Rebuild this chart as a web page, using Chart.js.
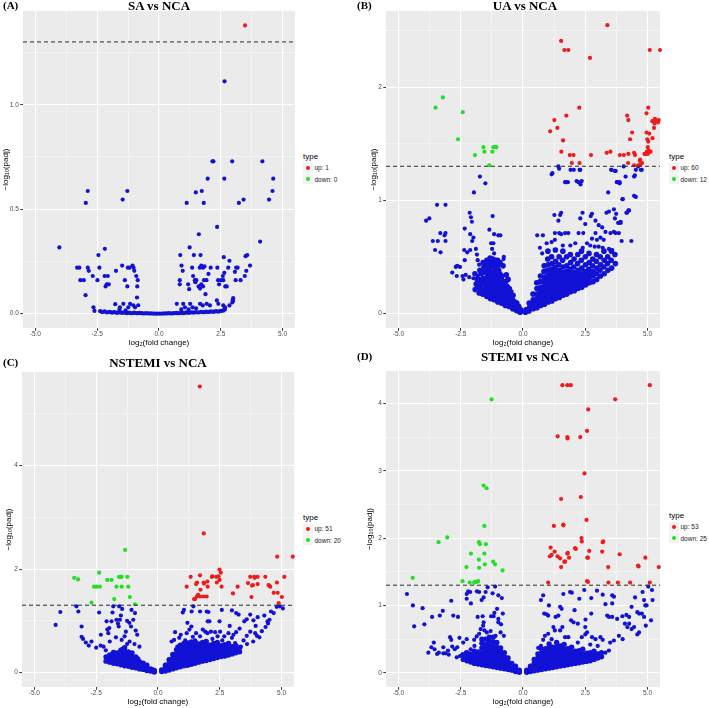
<!DOCTYPE html>
<html>
<head>
<meta charset="utf-8">
<script src="https://cdn.jsdelivr.net/npm/chart.js@4.4.1/dist/chart.umd.min.js"></script>
<style>
  html, body { margin: 0; padding: 0; background: #fff; }
  #fig { position: relative; width: 709px; height: 708px; overflow: hidden; }
  canvas { position: absolute; }
  .tag, .ttl { position: absolute; font-family: "Liberation Serif", "Times New Roman", serif; font-weight: bold; color: #000; white-space: nowrap; }
  .tag { font-size: 11px; line-height: 11px; }
  .ttl { font-size: 13px; line-height: 13px; width: 200px; text-align: center; }
  .leg { position: absolute; font-family: "Liberation Sans", Arial, sans-serif; color: #000; white-space: nowrap; }
  .leg .lt { font-size: 8px; line-height: 9px; }
  .leg .row { display: flex; align-items: center; height: 11.5px; font-size: 6.5px; color: #1a1a1a; }
  .leg .row.first { margin-top: 1.5px; }
  .leg .key { width: 9.5px; height: 10px; background: #f2f2f2; display: flex; align-items: center; justify-content: center; margin-right: 2px; flex: none; }
  .leg .dot { width: 4px; height: 4px; border-radius: 50%; }
</style>
</head>
<body>
<div id="fig">
  <canvas id="cA" width="300" height="354" style="left:0;top:0"></canvas>
  <canvas id="cB" width="310" height="354" style="left:354px;top:0"></canvas>
  <canvas id="cC" width="300" height="368" style="left:0;top:340px"></canvas>
  <canvas id="cD" width="310" height="368" style="left:354px;top:340px"></canvas>

  <div class="tag" style="left:3px;top:0px">(A)</div>
  <div class="ttl" style="left:59px;top:-1px">SA vs NCA</div>
  <div class="tag" style="left:357px;top:0px">(B)</div>
  <div class="ttl" style="left:425px;top:-1px">UA vs NCA</div>
  <div class="tag" style="left:3px;top:357px">(C)</div>
  <div class="ttl" style="left:58px;top:356px">NSTEMI vs NCA</div>
  <div class="tag" style="left:357px;top:351px">(D)</div>
  <div class="ttl" style="left:425px;top:350px">STEMI vs NCA</div>

  <div class="leg" id="lA" style="left:303px;top:151.5px"></div>
  <div class="leg" id="lB" style="left:669px;top:151.5px"></div>
  <div class="leg" id="lC" style="left:303px;top:512.5px"></div>
  <div class="leg" id="lD" style="left:669px;top:510.5px"></div>
</div>
<script>
// axis values shared by all four panels
const xMin = -5.5, xMax = 5.5;
const padjCut = 1.301;
const xMajor = [-5, -2.5, 0, 2.5, 5];
const xMinor = [-3.75, -1.25, 1.25, 3.75];

const upColor = '#ee1c1c', downColor = '#22e022', normColor = '#1212d6';

// ---- (A) SA vs NCA ----
const saUp = [[3.48, 1.38]];
const saDown = [];
const saNormal = [
  [-4.03,0.317],[-3.31,0.22],[-3.22,0.22],[-3.18,0.16],[-3.04,0.16],[-2.97,0.088],[-2.96,0.53],[-2.88,0.587],[-2.88,0.22],[-2.84,0.205],
  [-2.68,0.18],[-2.65,0.03],[-2.61,0.013],[-2.49,0.16],[-2.45,0.28],[-2.41,0.22],[-2.19,0.31],[-2.2,0.18],[-2.07,0.18],[-2.16,0.13],
  [-2.11,0.14],[-2.03,0.14],[-1.74,0.205],[-1.77,0.045],[-1.47,0.546],[-1.28,0.587],[-1.49,0.23],[-1.38,0.16],[-1.28,0.13],[-1.26,0.22],
  [-1.19,0.22],[-1.07,0.23],[-1.03,0.22],[-1.0,0.205],[-0.92,0.18],[-0.86,0.16],[-0.88,0.13],[-0.89,0.077],
  [-1.58,0.03],[-1.44,0.047],[-1.24,0.03],[-1.17,0.047],[-1.04,0.04],[-0.97,0.03],[-0.84,0.04],[-1.6,0.02],[-1.35,0.015],
  [0.84,0.16],[0.84,0.14],[0.86,0.28],[0.91,0.23],[0.96,0.205],[1.12,0.53],[1.18,0.14],[1.22,0.117],[1.24,0.317],[1.34,0.22],
  [1.38,0.18],[1.41,0.28],[1.45,0.16],[1.51,0.16],[1.47,0.15],[1.49,0.58],[1.61,0.38],[1.65,0.22],[1.71,0.23],[1.78,0.22],
  [1.68,0.28],[1.6,0.13],[1.66,0.12],[1.71,0.14],[1.78,0.13],[1.73,0.587],[1.81,0.53],[1.84,0.226],[1.88,0.093],[1.92,0.16],
  [1.82,0.16],[1.97,0.646],[2.0,0.19],[2.09,0.22],[2.16,0.729],[2.2,0.729],[2.35,0.415],[2.36,0.22],[2.39,0.16],[2.43,0.14],
  [2.52,0.16],[2.58,0.18],[2.6,0.16],[2.64,0.195],[2.68,0.13],[2.74,0.13],[2.62,0.27],[2.64,0.646],[2.65,1.112],[2.8,0.22],
  [2.85,0.253],[2.96,0.729],[2.96,0.053],[3.0,0.06],[3.07,0.2],[3.12,0.22],[3.18,0.22],[3.1,0.16],[3.3,0.16],[3.23,0.53],
  [3.42,0.546],[3.47,0.18],[3.5,0.275],[3.57,0.28],[3.53,0.205],[3.68,0.23],[4.09,0.345],[4.18,0.729],[4.45,0.546],[4.59,0.587],[4.62,0.646],
  [0.72,0.047],[0.98,0.047],[1.05,0.03],[1.26,0.047],[1.36,0.03],[1.66,0.047],[1.77,0.039],[1.93,0.047],[2.06,0.039],[2.34,0.063],
  [2.4,0.047],[2.6,0.039],[2.67,0.03],[2.85,0.039],[2.98,0.066],[3.0,0.074],[1.2,0.02],[1.5,0.025],[0.9,0.02]
];
const saZeroRow = [
  [-2.38,0.012],[-2.3,0.008],[-2.2,0.01],[-2.1,0.006],[-2.0,0.008],[-1.9,0.005],[-1.8,0.007],[-1.7,0.004],[-1.6,0.006],[-1.5,0.004],
  [-1.4,0.005],[-1.3,0.003],[-1.2,0.004],[-1.1,0.002],[-1.0,0.004],[-0.9,0.002],[-0.8,0.003],[-0.7,0.002],[-0.6,0.001],[-0.5,0.002],
  [-0.4,0.001],[-0.3,0.001],[-0.2,0],[-0.1,0],[0,0],[0.1,0],[0.2,0.001],[0.3,0.001],[0.4,0.002],[0.5,0.001],
  [0.6,0.002],[0.7,0.003],[0.8,0.002],[0.9,0.004],[1.0,0.003],[1.1,0.005],[1.2,0.004],[1.3,0.006],[1.4,0.005],[1.5,0.007],
  [1.6,0.006],[1.7,0.008],[1.8,0.007],[1.9,0.009],[2.0,0.008],[2.1,0.01],[2.2,0.009],[2.3,0.011],[2.4,0.01],[2.5,0.013],[2.6,0.015],[2.66,0.02]
];
const saYMajor = [0, 0.5, 1];
const saYMinor = [0.25, 0.75, 1.25];

// ---- (B) UA vs NCA ----
const uaUp = [
  [1.53,2.41],[1.66,2.33],[1.82,2.33],[2.69,2.26],[3.39,2.55],[5.09,2.33],[5.5,2.33],
  [2.26,1.82],[1.74,1.75],[1.26,1.71],[1.38,1.64],[1.09,1.61],[1.61,1.53],[1.54,1.43],[1.88,1.40],[2.03,1.40],[1.96,1.33],[2.27,1.33],[2.73,1.40],[3.36,1.42],[3.51,1.43],
  [3.89,1.40],[4.05,1.40],[4.23,1.41],[4.18,1.75],[4.23,1.71],[4.38,1.60],[4.30,1.54],[4.22,1.33],[4.46,1.42],[4.50,1.40],[4.46,1.31],[4.69,1.35],[4.72,1.32],[4.70,1.36],
  [4.92,1.41],[4.97,1.43],[5.01,1.41],[5.05,1.44],[4.96,1.77],[5.03,1.82],[4.96,1.60],[5.07,1.59],[5.01,1.47],[5.03,1.52],
  [5.12,1.43],[5.20,1.55],[5.26,1.64],[5.19,1.70],[5.28,1.68],[5.33,1.70],[5.38,1.70],[5.45,1.71],[5.30,1.72],[5.09,1.43],
  [4.88,1.41],[4.99,1.54],[5.42,1.69],[4.78,1.33],[4.62,1.31]
];
const uaDown = [
  [-3.51,1.82],[-3.22,1.91],[-2.42,1.78],[-2.61,1.54],[-1.93,1.40],[-1.59,1.47],[-1.55,1.43],[-1.23,1.43],[-1.19,1.47],[-1.07,1.47],[-1.13,1.47],[-1.35,1.31]
];
const uaNormal = [
  [-3.89,0.82],[-3.76,0.84],[-3.62,0.64],[-3.42,0.64],[-3.53,0.56],[-3.31,0.54],[-3.45,0.96],[-3.11,0.96],[-3.32,0.71],[-3.15,0.69],
  [-3.11,0.71],[-3.11,0.64],[-2.84,0.36],[-2.70,0.41],[-2.64,0.42],[-2.66,0.33],[-2.53,0.41],[-2.43,0.33],[-2.39,0.30],[-2.34,0.47],
  [-2.30,0.34],[-2.16,0.32],[-1.99,0.31],[-1.82,0.33],[-1.80,0.28],[-1.62,0.29],[-1.55,0.21],[-2.34,0.75],[-2.24,0.54],[-2.14,0.89],
  [-2.09,0.85],[-2.05,0.81],[-2.12,0.70],[-2.36,0.56],[-2.12,0.56],[-2.04,0.64],[-1.99,0.67],[-1.97,1.07],[-1.89,0.57],[-1.85,0.52],
  [-1.82,0.47],[-1.76,0.43],[-1.73,1.21],[-1.51,1.15],[-1.35,0.74],[-1.22,0.86],[-1.16,0.70],[-0.99,0.69],[-0.91,0.69],[-1.24,0.57],
  [-1.28,0.62],[-1.19,0.62],[-1.16,0.53],[-0.78,0.48],[-0.77,0.50],
  [1.15,1.23],[1.42,1.30],[1.49,0.87],[1.53,0.89],[1.26,0.87],[1.42,0.82],[1.28,0.71],[1.45,0.71],[1.53,0.70],[1.82,0.71],
  [1.72,1.16],[1.80,1.16],[2.04,1.27],[2.31,1.14],[2.30,1.27],[2.23,1.16],[2.36,1.17],[2.39,0.89],[2.30,0.84],[2.50,0.79],
  [2.42,0.71],[2.23,0.71],[2.72,0.86],[2.77,0.88],[2.91,0.82],[3.04,0.78],[3.18,0.76],[3.31,0.72],[3.42,1.07],[3.55,1.27],
  [3.72,1.26],[3.78,1.16],[3.88,1.16],[3.35,0.89],[3.45,0.90],[3.65,0.92],[3.74,0.88],[3.82,0.80],[3.92,0.80],[3.69,0.84],
  [3.85,0.71],[4.01,1.01],[4.12,1.21],[4.15,0.89],[4.26,0.91],[3.96,0.64],[4.46,1.04],[4.49,1.22],[4.73,1.27],[4.53,1.27],
  [3.51,0.71],[3.65,0.72],[3.72,0.71],[2.77,0.66],[2.97,0.65],[3.11,0.67],[3.24,0.65],[2.91,0.71],[2.57,0.62],[2.70,0.60],
  [2.88,0.59],[3.04,0.59],[3.20,0.58],[3.45,0.57],[3.58,0.56],[1.69,0.71],[1.15,0.63],[1.28,0.65],[0.57,0.69],[0.80,0.69],
  [0.77,0.53],[1.18,1.24],[1.45,1.28],[1.91,1.27],[2.27,1.27],[1.69,1.16],[2.15,1.17],[3.54,1.27],[3.69,1.26],[4.04,1.30],
  [4.46,1.21],[4.62,1.30],[4.77,1.27],[3.77,1.16],[3.88,1.15],[4.53,1.03],[3.99,1.01],[4.35,0.64],[4.18,0.89],[4.23,0.91],
  [3.92,0.81],[0.95,0.62],[0.68,0.58],[2.1,0.62],[1.9,0.6],[1.6,0.6],[2.4,0.58]
];
const uaCore = [
  [-1.92,0.21],[-1.88,0.26],[-1.93,0.35],[-1.76,0.18],[-1.74,0.24],[-1.77,0.30],[-1.73,0.38],
  [-1.62,0.17],[-1.58,0.21],[-1.61,0.26],[-1.59,0.31],[-1.62,0.36],[-1.57,0.41],[-1.6,0.45],
  [-1.46,0.15],[-1.44,0.19],[-1.47,0.23],[-1.43,0.27],[-1.46,0.31],[-1.44,0.35],[-1.47,0.39],[-1.43,0.43],[-1.45,0.47],
  [-1.31,0.13],[-1.29,0.17],[-1.32,0.21],[-1.28,0.25],[-1.31,0.29],[-1.29,0.33],[-1.32,0.37],[-1.28,0.41],[-1.3,0.46],
  [-1.16,0.12],[-1.14,0.16],[-1.17,0.20],[-1.13,0.24],[-1.16,0.28],[-1.14,0.32],[-1.17,0.36],[-1.13,0.40],[-1.15,0.44],
  [-1.01,0.10],[-0.99,0.14],[-1.02,0.18],[-0.98,0.22],[-1.01,0.26],[-0.99,0.30],[-1.02,0.34],[-0.98,0.38],[-1.0,0.42],
  [-0.86,0.09],[-0.84,0.13],[-0.87,0.17],[-0.83,0.21],[-0.86,0.25],[-0.84,0.29],[-0.85,0.33],
  [-0.71,0.07],[-0.69,0.11],[-0.72,0.15],[-0.68,0.19],[-0.71,0.23],[-0.7,0.28],
  [-0.56,0.06],[-0.54,0.10],[-0.57,0.14],[-0.53,0.18],[-0.55,0.22],
  [-0.41,0.04],[-0.39,0.08],[-0.42,0.12],[-0.4,0.16],[-0.26,0.025],[-0.24,0.05],[-0.25,0.09],[-0.11,0.01],[-0.09,0.03],
  [-1.52,0.19],[-1.53,0.29],[-1.52,0.39],[-1.37,0.15],[-1.38,0.25],[-1.36,0.35],[-1.37,0.44],[-1.22,0.14],[-1.23,0.24],[-1.21,0.34],
  [-1.22,0.42],[-1.07,0.12],[-1.08,0.2],[-1.06,0.3],[-1.07,0.4],[-0.93,0.11],[-0.92,0.19],[-0.94,0.27],[-0.93,0.35],[-0.78,0.09],
  [-0.77,0.17],[-0.79,0.25],[-0.63,0.08],[-0.62,0.16],[-0.64,0.24],[-0.48,0.06],[-0.47,0.13],[-0.49,0.19],[-0.33,0.04],[-0.32,0.1],
  [-0.18,0.02],[-0.17,0.06],[-1.68,0.2],[-1.67,0.28],[-1.69,0.35],[-1.83,0.23],[-1.84,0.3],
  [-1.32,0.49],[-1.21,0.48],[-1.1,0.47],[-1.02,0.47],[-0.92,0.45],[-0.8,0.42],[-0.67,0.34],[-0.6,0.3],
  [0.1,0.01],[0.12,0.03],[0.24,0.02],[0.26,0.05],[0.25,0.09],[0.41,0.04],[0.39,0.08],[0.41,0.12],[0.4,0.17],
  [0.56,0.05],[0.54,0.09],[0.56,0.13],[0.54,0.17],[0.56,0.22],[0.55,0.27],
  [0.71,0.07],[0.69,0.11],[0.71,0.15],[0.69,0.19],[0.71,0.23],[0.69,0.28],[0.7,0.33],
  [0.86,0.08],[0.84,0.12],[0.86,0.16],[0.84,0.2],[0.86,0.24],[0.84,0.28],[0.86,0.32],[0.84,0.37],[0.85,0.42],
  [1.01,0.1],[0.99,0.14],[1.01,0.18],[0.99,0.22],[1.01,0.26],[0.99,0.3],[1.01,0.34],[0.99,0.38],[1.01,0.43],[0.99,0.48],[1.0,0.55],
  [1.16,0.11],[1.14,0.15],[1.16,0.19],[1.14,0.23],[1.16,0.27],[1.14,0.31],[1.16,0.35],[1.14,0.39],[1.16,0.44],[1.15,0.5],
  [1.31,0.13],[1.29,0.17],[1.31,0.21],[1.29,0.25],[1.31,0.29],[1.29,0.33],[1.31,0.37],[1.29,0.41],[1.31,0.46],[1.3,0.56],
  [1.46,0.14],[1.44,0.18],[1.46,0.22],[1.44,0.26],[1.46,0.3],[1.44,0.34],[1.46,0.38],[1.44,0.43],[1.45,0.5],
  [1.61,0.16],[1.59,0.2],[1.61,0.24],[1.59,0.28],[1.61,0.32],[1.59,0.36],[1.61,0.41],[1.59,0.47],[1.6,0.55],
  [1.76,0.17],[1.74,0.21],[1.76,0.25],[1.74,0.29],[1.76,0.33],[1.74,0.37],[1.76,0.42],[1.75,0.5],
  [1.91,0.19],[1.89,0.23],[1.91,0.27],[1.89,0.31],[1.91,0.35],[1.89,0.39],[1.91,0.45],[1.9,0.52],
  [2.06,0.2],[2.04,0.24],[2.06,0.28],[2.04,0.32],[2.06,0.36],[2.04,0.41],[2.05,0.48],
  [2.21,0.22],[2.19,0.26],[2.21,0.3],[2.19,0.34],[2.21,0.38],[2.19,0.44],[2.2,0.52],
  [2.36,0.23],[2.34,0.27],[2.36,0.31],[2.34,0.35],[2.36,0.4],[2.34,0.47],[2.35,0.55],
  [2.51,0.25],[2.49,0.29],[2.51,0.33],[2.49,0.37],[2.51,0.43],[2.5,0.5],
  [2.66,0.27],[2.64,0.31],[2.66,0.35],[2.64,0.39],[2.66,0.45],[2.65,0.53],
  [2.81,0.28],[2.79,0.33],[2.81,0.37],[2.79,0.42],[2.8,0.48],[2.96,0.3],[2.94,0.35],[2.96,0.4],[2.94,0.46],[2.95,0.52],
  [3.11,0.33],[3.09,0.38],[3.11,0.43],[3.1,0.5],[3.26,0.35],[3.24,0.41],[3.26,0.47],[3.25,0.55],
  [3.41,0.38],[3.39,0.44],[3.4,0.5],[3.56,0.4],[3.54,0.47],[3.55,0.55],[3.71,0.44],[3.69,0.52]
];
const uaYMajor = [0, 1, 2];
const uaYMinor = [0.5, 1.5, 2.5];

// ---- (C) NSTEMI vs NCA ----
const nsUp = [
  [1.69,5.53],[1.85,2.69],[4.82,2.24],[5.45,2.24],
  [1.32,1.85],[1.70,1.88],[1.16,1.66],[1.54,1.71],[1.86,1.72],[2.00,1.76],[2.18,1.85],[2.35,1.85],[2.49,1.99],[2.54,1.93],[2.38,1.74],[2.57,1.66],[2.01,1.66],
  [1.57,1.47],[1.70,1.47],[1.84,1.47],[1.97,1.47],[1.46,1.42],[1.50,1.42],[1.62,1.50],
  [3.03,1.53],[3.22,1.66],[3.73,1.85],[3.84,1.69],[3.89,1.85],[4.03,1.85],[4.03,1.71],[3.64,1.73],[3.78,1.46],[3.91,1.83],
  [4.34,1.85],[4.47,1.69],[4.54,1.66],[4.68,1.54],[4.81,1.74],[4.84,1.54],[5.01,1.46],[5.11,1.85],[4.88,1.34],
  [1.85,1.74],[2.20,1.86],[2.49,1.79],[1.58,1.74],[1.72,1.60],[3.80,1.68],[4.50,1.68],[2.45,1.86]
];
const nsDown = [
  [-3.39,1.83],[-3.23,1.80],[-2.38,1.93],[-2.59,1.66],[-2.49,1.66],[-2.35,1.66],[-2.05,1.79],[-1.88,1.79],[-1.58,1.85],[-1.47,1.85],
  [-1.24,1.85],[-1.68,1.66],[-1.47,1.66],[-1.20,1.66],[-2.69,1.35],[-1.77,1.42],[-1.14,1.46],[-0.93,1.32],[-1.33,2.37],[-1.52,1.85]
];
const nsNormal = [
  [-4.14,0.92],[-3.95,1.17],[-3.30,1.28],[-3.22,1.18],[-3.09,0.89],[-3.09,0.69],[-3.03,0.65],[-2.92,0.58],[-2.69,0.60],[-2.38,1.16],
  [-2.32,0.52],[-2.11,0.43],[-2.08,0.99],[-1.97,0.86],[-1.88,0.99],[-1.68,1.02],[-1.54,1.02],[-1.84,1.16],[-1.81,1.28],[-1.57,1.28],
  [-2.05,0.83],[-2.01,0.76],[-1.59,0.89],[-1.30,0.79],[-1.16,0.96],[-1.09,0.89],[-1.07,1.21],[-0.93,1.15],[-0.90,0.81],[-0.84,0.73],
  [-1.47,0.63],[-2.31,0.73],[-1.45,1.23],[-1.50,1.10],[-1.62,0.95],[-1.25,1.0],[-1.0,1.02],[-1.35,0.7],[-1.7,0.68],[-1.95,0.6],
  [-2.2,0.5],[-2.5,0.48],[-2.8,0.52],[-1.15,0.6],[-0.95,0.55],[-0.75,0.5],[-1.25,0.55],
  [0.69,0.78],[1.00,1.16],[1.05,1.21],[1.36,1.18],[1.70,1.18],[1.97,1.18],[2.04,1.17],[1.43,1.28],[2.01,0.99],[2.08,0.99],
  [2.49,0.99],[2.58,1.21],[2.99,1.20],[3.16,1.15],[3.26,1.12],[3.49,0.99],[3.59,1.03],[3.73,1.12],[3.86,1.01],[4.03,1.07],
  [3.93,0.76],[4.00,0.71],[4.43,0.99],[4.51,1.02],[4.57,1.18],[4.68,1.15],[4.92,1.28],[5.05,1.24],[3.46,0.62],[3.59,0.71],
  [3.73,0.79],[2.73,0.41],[3.12,0.57],[3.05,0.73],[3.16,0.78],[2.68,0.70],[2.85,0.76],[2.99,0.67],[2.31,0.78],[2.41,0.70],
  [2.51,0.79],[1.91,0.79],[2.00,0.76],[2.14,0.79],[1.54,0.76],[1.70,0.70],[1.81,0.83],[1.16,0.76],[1.27,0.83],[1.41,0.69],
  [0.86,0.67],[0.92,0.73],[0.55,0.60],[0.65,0.63],[1.19,0.96],[1.35,0.89],[4.8,1.27],[4.35,0.88],[4.2,0.8],[4.1,0.68],
  [3.85,0.6],[3.6,0.55],[3.35,0.5],[4.45,0.95],[3.3,0.85],[2.9,0.9],[2.2,0.65],[1.5,0.62],[1.1,0.62],[2.6,0.62],
  [3.95,0.9],[4.3,1.1],[0.78,0.5]
];
const nsCore = [
  [-2.1,0.22],[-2.1,0.3],[-1.95,0.2],[-1.95,0.27],[-1.95,0.34],[-1.8,0.18],[-1.8,0.25],[-1.8,0.32],[-1.8,0.39],
  [-1.65,0.17],[-1.65,0.24],[-1.65,0.31],[-1.65,0.38],[-1.5,0.15],[-1.5,0.22],[-1.5,0.29],[-1.5,0.36],[-1.5,0.43],
  [-1.35,0.13],[-1.35,0.2],[-1.35,0.27],[-1.35,0.34],[-1.35,0.41],[-1.35,0.48],[-1.2,0.12],[-1.2,0.19],[-1.2,0.26],[-1.2,0.33],[-1.2,0.4],
  [-1.05,0.1],[-1.05,0.17],[-1.05,0.24],[-1.05,0.31],[-1.05,0.38],[-0.9,0.09],[-0.9,0.16],[-0.9,0.23],[-0.9,0.3],
  [-0.75,0.07],[-0.75,0.14],[-0.75,0.21],[-0.6,0.06],[-0.6,0.12],[-0.6,0.18],[-0.45,0.04],[-0.45,0.09],[-0.45,0.14],
  [-0.3,0.03],[-0.3,0.07],[-0.15,0.01],[-0.15,0.04],
  [-2.02,0.25],[-1.72,0.21],[-1.72,0.35],[-1.42,0.18],[-1.42,0.32],[-1.42,0.45],[-1.12,0.15],[-1.12,0.29],[-0.82,0.12],[-0.82,0.26],[-0.52,0.09],[-0.22,0.05],
  [0.15,0.02],[0.15,0.05],[0.3,0.03],[0.3,0.08],[0.3,0.14],[0.45,0.05],[0.45,0.11],[0.45,0.18],[0.45,0.25],
  [0.6,0.07],[0.6,0.14],[0.6,0.21],[0.6,0.28],[0.6,0.35],[0.75,0.09],[0.75,0.16],[0.75,0.23],[0.75,0.3],[0.75,0.37],[0.75,0.44],
  [0.9,0.11],[0.9,0.18],[0.9,0.25],[0.9,0.32],[0.9,0.39],[0.9,0.46],[0.9,0.53],
  [1.05,0.13],[1.05,0.2],[1.05,0.27],[1.05,0.34],[1.05,0.41],[1.05,0.48],[1.05,0.56],
  [1.2,0.14],[1.2,0.21],[1.2,0.28],[1.2,0.35],[1.2,0.42],[1.2,0.49],[1.2,0.57],
  [1.35,0.16],[1.35,0.23],[1.35,0.3],[1.35,0.37],[1.35,0.44],[1.35,0.51],[1.35,0.59],
  [1.5,0.18],[1.5,0.25],[1.5,0.32],[1.5,0.39],[1.5,0.46],[1.5,0.53],[1.5,0.6],
  [1.65,0.2],[1.65,0.27],[1.65,0.34],[1.65,0.41],[1.65,0.48],[1.65,0.55],
  [1.8,0.22],[1.8,0.29],[1.8,0.36],[1.8,0.43],[1.8,0.5],[1.8,0.58],
  [1.95,0.23],[1.95,0.3],[1.95,0.37],[1.95,0.44],[1.95,0.51],[1.95,0.6],
  [2.1,0.25],[2.1,0.32],[2.1,0.39],[2.1,0.46],[2.1,0.53],[2.25,0.27],[2.25,0.34],[2.25,0.41],[2.25,0.48],[2.25,0.56],
  [2.4,0.29],[2.4,0.36],[2.4,0.43],[2.4,0.5],[2.4,0.58],[2.55,0.31],[2.55,0.38],[2.55,0.45],[2.55,0.52],
  [2.7,0.32],[2.7,0.39],[2.7,0.46],[2.7,0.54],[2.85,0.34],[2.85,0.41],[2.85,0.48],[2.85,0.56],
  [3.0,0.36],[3.0,0.43],[3.0,0.5],[3.15,0.38],[3.15,0.45],[3.15,0.52],[3.3,0.4],[3.3,0.48]
];
const nsYMajor = [0, 2, 4];
const nsYMinor = [1, 3, 5];

// ---- (D) STEMI vs NCA ----
const stUp = [
  [1.58,4.27],[1.78,4.27],[1.92,4.27],[5.09,4.27],[3.70,4.06],[2.62,3.91],[1.39,3.51],[1.78,3.50],[1.79,3.48],[2.30,3.50],[2.57,3.59],[2.47,2.96],
  [2.32,2.61],[1.53,2.58],[2.55,2.27],[1.24,2.18],[1.62,2.20],[2.35,2.00],[2.36,1.95],[3.20,1.94],[2.09,1.85],[1.11,1.86],[1.27,1.80],[1.08,1.73],[1.39,1.73],
  [1.78,1.77],[1.85,1.71],[1.66,1.65],[1.53,1.57],[2.66,1.81],[2.61,1.71],[3.18,1.80],[3.88,1.76],[3.42,1.57],[4.64,1.58],[4.91,1.71],[5.45,1.57],[1.49,1.70],
  [1.01,1.34],[2.57,1.36],[2.61,1.35],[3.43,1.34],[3.81,1.34],[4.30,1.34],[5.09,1.34],[1.69,1.65],[2.58,1.71],[1.62,2.19],[3.22,1.95],[1.15,1.75],[2.12,1.84],[4.62,1.59],[1.80,1.78]
];
const stDown = [
  [-4.43,1.41],[-3.04,2.01],[-3.39,1.94],[-1.26,4.06],[-1.58,2.78],[-1.46,2.74],[-1.55,2.18],[-1.77,1.94],[-1.73,1.91],[-1.49,1.91],
  [-2.09,1.77],[-1.55,1.77],[-2.27,1.57],[-1.77,1.68],[-1.76,1.56],[-1.53,1.61],[-1.20,1.65],[-1.12,1.61],[-0.82,1.52],[-2.43,1.36],
  [-2.14,1.34],[-1.93,1.35],[-1.86,1.35],[-1.80,1.36],[-1.96,1.34]
];
const stNormal = [
  [-4.66,1.17],[-4.42,1.00],[-4.37,0.69],[-4.03,0.96],[-3.96,0.72],[-3.65,0.83],[-3.68,0.38],[-3.55,0.35],[-3.58,0.45],[-3.38,0.30],
  [-3.20,0.29],[-3.11,0.29],[-3.01,0.33],[-3.34,0.85],[-3.22,0.92],[-3.20,0.38],[-2.93,0.53],[-2.88,0.49],[-2.88,1.07],[-2.80,0.85],
  [-2.61,0.83],[-2.84,0.39],[-2.74,0.35],[-2.64,0.38],[-2.66,0.23],[-2.53,0.25],[-2.43,0.28],[-2.26,1.17],[-2.20,1.21],[-2.12,1.20],
  [-2.26,1.10],[-2.09,1.03],[-2.26,0.50],[-1.85,1.21],[-1.76,1.20],[-1.82,0.83],[-1.62,0.84],[-1.58,0.75],[-1.76,0.58],[-1.55,0.63],
  [-1.96,0.49],[-1.86,0.54],[-1.66,1.08],[-1.58,1.12],[-1.42,1.27],[-1.12,1.28],[-1.22,1.18],[-0.99,1.15],[-0.85,1.11],[-1.28,0.84],
  [-1.18,0.84],[-1.15,0.89],[-1.04,0.95],[-0.99,0.80],[-0.81,0.88],[-0.99,0.75],[-0.88,0.72],[-0.77,0.55],[-3.8,0.3],[-3.45,0.28],
  [-2.98,0.27],[-2.3,0.3],[-2.1,0.35],[-2.4,0.45],[-1.6,0.7],[-1.45,0.6],[-1.7,0.65],[-1.3,0.62],[-1.1,0.55],[-0.9,0.6],
  [-1.95,0.4],[-2.55,0.52],[-1.5,1.2],
  [0.72,1.08],[0.81,1.15],[1.04,1.0],[0.85,0.88],[0.95,0.87],[1.01,0.85],[1.31,0.83],[1.42,0.85],[1.49,0.98],[1.55,0.95],
  [1.62,1.17],[1.89,1.2],[1.96,1.19],[2.07,0.93],[2.26,1.1],[2.46,1.23],[2.51,0.79],[2.5,0.68],[2.57,0.6],[2.74,1.11],
  [2.74,0.88],[2.97,1.22],[3.2,1.16],[3.31,1.02],[3.38,0.85],[3.45,0.83],[3.58,1.15],[3.65,1.13],[3.58,1.03],[3.58,0.83],
  [3.78,0.8],[3.99,0.84],[4.15,0.86],[4.26,0.83],[4.09,0.73],[4.19,0.68],[4.36,0.98],[4.5,1.12],[4.59,0.9],[4.66,0.88],
  [4.77,0.88],[4.8,1.2],[4.86,1.08],[4.91,1.0],[4.96,1.0],[4.86,0.83],[4.93,0.7],[5.03,1.28],[5.18,1.23],[5.2,1.08],
  [5.14,0.78],[4.66,0.6],[4.59,0.57],[4.46,0.68],[4.26,0.73],[4.36,0.65],[3.85,0.55],[3.65,0.48],[3.45,0.33],[3.31,0.3],
  [3.11,0.53],[3.2,0.49],[2.77,0.53],[2.91,0.5],[2.36,0.53],[2.5,0.57],[2.2,0.73],[1.93,0.78],[2.03,0.75],[1.69,0.53],
  [1.82,0.53],[1.58,0.68],[1.49,0.63],[1.22,0.68],[1.28,0.63],[1.01,0.58],[1.15,0.5],[0.81,0.49],[0.88,0.55],[0.61,0.37],
  [0.72,0.4],[2.2,0.45],[2.7,0.42],[3.0,0.4],[3.5,0.45],[4.0,0.5]
];
const stCore = [
  [-2.4,0.2],[-2.4,0.26],[-2.25,0.18],[-2.25,0.24],[-2.25,0.3],[-2.1,0.16],[-2.1,0.22],[-2.1,0.28],
  [-1.95,0.14],[-1.95,0.2],[-1.95,0.26],[-1.95,0.32],[-1.8,0.13],[-1.8,0.19],[-1.8,0.25],[-1.8,0.31],
  [-1.65,0.12],[-1.65,0.18],[-1.65,0.24],[-1.65,0.3],[-1.65,0.37],[-1.65,0.44],[-1.65,0.5],
  [-1.5,0.11],[-1.5,0.17],[-1.5,0.23],[-1.5,0.29],[-1.5,0.35],[-1.5,0.42],[-1.5,0.5],
  [-1.35,0.1],[-1.35,0.16],[-1.35,0.22],[-1.35,0.28],[-1.35,0.34],[-1.35,0.4],[-1.35,0.47],[-1.35,0.53],
  [-1.2,0.09],[-1.2,0.15],[-1.2,0.21],[-1.2,0.27],[-1.2,0.33],[-1.2,0.39],[-1.2,0.46],[-1.2,0.53],
  [-1.05,0.08],[-1.05,0.14],[-1.05,0.2],[-1.05,0.26],[-1.05,0.32],[-1.05,0.38],[-1.05,0.45],
  [-0.9,0.07],[-0.9,0.13],[-0.9,0.19],[-0.9,0.25],[-0.9,0.31],[-0.9,0.37],[-0.75,0.06],[-0.75,0.12],[-0.75,0.18],[-0.75,0.24],[-0.75,0.3],
  [-0.6,0.05],[-0.6,0.1],[-0.6,0.16],[-0.6,0.22],[-0.45,0.04],[-0.45,0.09],[-0.45,0.14],[-0.3,0.02],[-0.3,0.06],[-0.3,0.1],[-0.15,0.01],[-0.15,0.04],
  [0.15,0.01],[0.15,0.04],[0.3,0.02],[0.3,0.06],[0.3,0.1],[0.45,0.03],[0.45,0.08],[0.45,0.14],[0.45,0.2],
  [0.6,0.04],[0.6,0.1],[0.6,0.16],[0.6,0.22],[0.6,0.28],[0.75,0.05],[0.75,0.11],[0.75,0.17],[0.75,0.23],[0.75,0.29],[0.75,0.35],
  [0.9,0.06],[0.9,0.12],[0.9,0.18],[0.9,0.24],[0.9,0.3],[0.9,0.36],[1.05,0.07],[1.05,0.13],[1.05,0.19],[1.05,0.25],[1.05,0.31],[1.05,0.37],[1.05,0.43],
  [1.2,0.08],[1.2,0.14],[1.2,0.2],[1.2,0.26],[1.2,0.32],[1.2,0.38],[1.35,0.09],[1.35,0.15],[1.35,0.21],[1.35,0.27],[1.35,0.33],[1.35,0.39],[1.35,0.45],
  [1.5,0.1],[1.5,0.16],[1.5,0.22],[1.5,0.28],[1.5,0.34],[1.5,0.4],[1.65,0.11],[1.65,0.17],[1.65,0.23],[1.65,0.29],[1.65,0.35],[1.65,0.42],
  [1.8,0.12],[1.8,0.18],[1.8,0.24],[1.8,0.3],[1.8,0.36],[1.95,0.13],[1.95,0.19],[1.95,0.25],[1.95,0.31],[1.95,0.38],
  [2.1,0.14],[2.1,0.2],[2.1,0.26],[2.1,0.32],[2.25,0.15],[2.25,0.21],[2.25,0.27],[2.25,0.33],[2.4,0.16],[2.4,0.22],[2.4,0.28],[2.4,0.35],
  [2.55,0.17],[2.55,0.23],[2.55,0.29],[2.7,0.18],[2.7,0.24],[2.7,0.3],[2.85,0.2],[2.85,0.26],[2.85,0.32],[3.0,0.22],[3.0,0.28],[3.15,0.24],[3.15,0.3]
];
const stYMajor = [0, 1, 2, 3, 4];
const stYMinor = [0.5, 1.5, 2.5, 3.5];

Chart.defaults.font.family = '"Liberation Sans", Arial, sans-serif';

const panelBg = {
  id: 'panelBg',
  beforeDraw(chart) {
    const { ctx, chartArea: a } = chart;
    ctx.save();
    ctx.fillStyle = '#ebebeb';
    ctx.fillRect(a.left, a.top, a.width, a.height);
    ctx.restore();
  }
};

const toXY = arr => arr.map(([x, y]) => ({ x, y }));

function tickSetter(major, minor) {
  return scale => {
    scale.ticks = major.concat(minor).sort((a, b) => a - b).map(v => ({ value: v }));
  };
}

function gridFor(major) {
  return {
    color: c => major.includes(c.tick.value) ? '#ffffff' : 'rgba(255,255,255,0.8)',
    lineWidth: c => major.includes(c.tick.value) ? 1.1 : 0.5,
    tickColor: c => major.includes(c.tick.value) ? '#333333' : 'rgba(0,0,0,0)',
    tickWidth: 1,
    tickLength: 2.75,
    drawTicks: true
  };
}

function makePanel(id, p) {
  // the dense cloud near zero is drawn with slightly bigger dots so it closes up like the original
  const pt = (data, color, r) => ({
    data: toXY(data), backgroundColor: color, borderWidth: 0, pointRadius: r, clip: false
  });
  new Chart(document.getElementById(id), {
    type: 'scatter',
    data: {
      datasets: [
        { data: [{ x: xMin, y: padjCut }, { x: xMax, y: padjCut }], showLine: true, borderColor: '#2a2a2a',
          borderWidth: 1, borderDash: [4, 3], pointRadius: 0, clip: false },
        pt(p.up, upColor, 2.1),
        pt(p.down, downColor, 2.1),
        pt(p.normal, normColor, 2.1),
        pt(p.core, normColor, p.coreR)
      ]
    },
    options: {
      responsive: false,
      animation: false,
      events: [],
      layout: { padding: { top: p.padTop, right: p.padRight, left: 0, bottom: 0 } },
      plugins: { legend: { display: false }, tooltip: { enabled: false } },
      scales: {
        x: {
          type: 'linear', min: xMin, max: xMax,
          afterBuildTicks: tickSetter(xMajor, xMinor),
          afterFit: s => { s.height = p.xAxisH; },
          border: { display: false },
          grid: gridFor(xMajor),
          ticks: { autoSkip: false, maxRotation: 0, padding: 0, color: '#4d4d4d', font: { size: 6.5 },
                   callback: v => xMajor.includes(v) ? v.toFixed(1) : '' },
          title: { display: true, text: 'log₂(fold change)', color: '#000', font: { size: 8 },
                   padding: { top: 0, bottom: p.xTitlePad } }
        },
        y: {
          type: 'linear', min: p.yMin, max: p.yMax,
          afterBuildTicks: tickSetter(p.yMajor, p.yMinor),
          afterFit: s => { s.width = p.yAxisW; },
          border: { display: false },
          grid: gridFor(p.yMajor),
          ticks: { autoSkip: false, padding: 1.5, color: '#4d4d4d', font: { size: 6.5 },
                   callback: v => p.yMajor.includes(v) ? p.yFmt(v) : '' },
          title: { display: true, text: '−log₁₀(padj)', color: '#000', font: { size: 8 },
                   padding: { top: p.yTitlePad, bottom: 0 } }
        }
      }
    },
    plugins: [panelBg]
  });
}

function makeLegend(id, nUp, nDown) {
  const el = document.getElementById(id);
  el.innerHTML =
    '<div class="lt">type</div>' +
    '<div class="row first"><div class="key"><div class="dot" style="background:' + upColor + '"></div></div>up: ' + nUp + '</div>' +
    '<div class="row"><div class="key"><div class="dot" style="background:' + downColor + '"></div></div>down: ' + nDown + '</div>';
}

makePanel('cA', {
  up: saUp, down: saDown, normal: saNormal, core: saZeroRow, coreR: 2.2,
  yMin: -0.069, yMax: 1.449, yMajor: saYMajor, yMinor: saYMinor, yFmt: v => v.toFixed(1),
  padTop: 11, padRight: 5, yAxisW: 23, xAxisH: 26, yTitlePad: 0.5, xTitlePad: 6
});
makePanel('cB', {
  up: uaUp, down: uaDown, normal: uaNormal, core: uaCore, coreR: 2.8,
  yMin: -0.13, yMax: 2.675, yMajor: uaYMajor, yMinor: uaYMinor, yFmt: v => String(v),
  padTop: 11, padRight: 2, yAxisW: 32, xAxisH: 26, yTitlePad: 15.2, xTitlePad: 6
});
makePanel('cC', {
  up: nsUp, down: nsDown, normal: nsNormal, core: nsCore, coreR: 2.7,
  yMin: -0.28, yMax: 5.81, yMajor: nsYMajor, yMinor: nsYMinor, yFmt: v => String(v),
  padTop: 32, padRight: 6, yAxisW: 22, xAxisH: 21, yTitlePad: 4, xTitlePad: 1.2
});
makePanel('cD', {
  up: stUp, down: stDown, normal: stNormal, core: stCore, coreR: 2.7,
  yMin: -0.21, yMax: 4.48, yMajor: stYMajor, yMinor: stYMinor, yFmt: v => String(v),
  padTop: 31, padRight: 3, yAxisW: 32, xAxisH: 21, yTitlePad: 10.7, xTitlePad: 1.2
});

makeLegend('lA', saUp.length, saDown.length);
makeLegend('lB', uaUp.length, uaDown.length);
makeLegend('lC', nsUp.length, nsDown.length);
makeLegend('lD', stUp.length, stDown.length);
</script>
</body>
</html>
